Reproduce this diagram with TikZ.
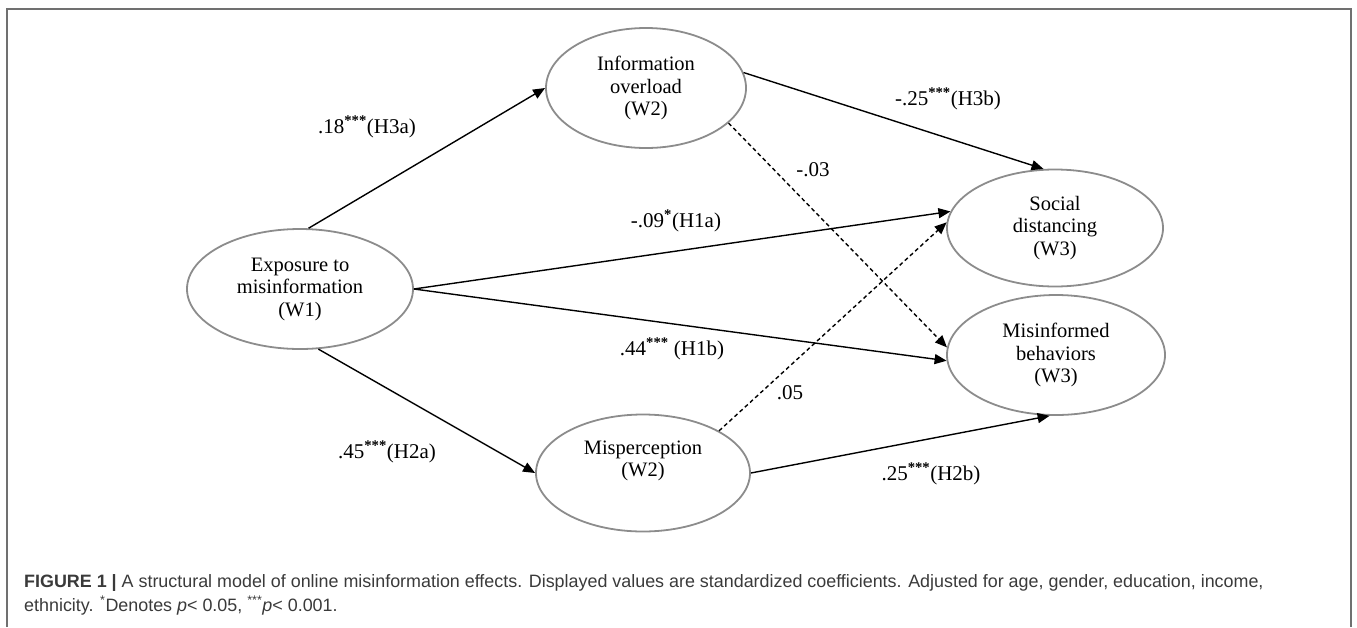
\documentclass[tikz,border=0pt]{standalone}
\usepackage{fontspec}
\setmainfont{Liberation Serif}
\newfontfamily\capfont{Liberation Sans}
\usetikzlibrary{shapes.geometric,arrows.meta}
\definecolor{ellgray}{HTML}{8C8C8C}
\definecolor{framegray}{HTML}{707070}
\definecolor{captext}{HTML}{3A3A3A}
\begin{document}
\begin{tikzpicture}[x=1pt, y=-1pt,
	latent/.style={ellipse, draw=ellgray, line width=1.8pt, inner sep=0pt, align=center, font=\fontsize{20.5}{22.5}\selectfont},
	effect/.style={draw=black, line width=1.4pt, -{Triangle[length=12pt, width=10pt]}},
	nonsig/.style={effect, dash pattern=on 4pt off 3pt},
	coef/.style={inner sep=0pt, font=\fontsize{21}{23}\selectfont},
	capt/.style={inner sep=0pt, text=captext, font=\capfont\fontsize{17.9}{21}\selectfont}]
	\useasboundingbox (0,0) rectangle (1357,627);
	\draw[framegray, line width=1.5pt] (7,627) |- (1351,9) -- (1351,627);
	\node[latent, minimum width=226, minimum height=120] (expo) at (300,289) {Exposure to\\misinformation\\(W1)};
	\node[latent, minimum width=200, minimum height=120] (over) at (646,88) {Information\\overload\\(W2)};
	\node[latent, minimum width=214, minimum height=117] (misp) at (643,473) {Misperception\\(W2)\\[6pt]};
	\node[latent, minimum width=216, minimum height=117] (soc) at (1055,228) {Social\\distancing\\(W3)};
	\node[latent, minimum width=218, minimum height=120] (misb) at (1056,355) {Misinformed\\behaviors\\(W3)};
	\draw[effect] (expo.82) -- (over.west);
	\draw[effect] (expo.east) -- (soc.171);
	\draw[effect] (expo.east) -- (misb.183);
	\draw[effect] (expo.287) -- (misp.west);
	\draw[effect] (over.9) -- (soc.101);
	\draw[nonsig] (over.337) -- (misb.176);
	\draw[nonsig] (misp.29) -- (soc.177);
	\draw[effect] (misp.east) -- (misb.264);
	\node[coef] (h3a) at (367,127) {.18\textsuperscript{\textbf{***}}(H3a)};
	\node[coef] (h1a) at (676,221) {-.09\textsuperscript{\textbf{*}}(H1a)};
	\node[coef] (h3b) at (948,99) {-.25\textsuperscript{\textbf{***}}(H3b)};
	\node[coef] (n1) at (813,170) {-.03};
	\node[coef] (h1b) at (672,349) {.44\textsuperscript{\textbf{***}} (H1b)};
	\node[coef] (n2) at (790,393) {.05};
	\node[coef] (h2a) at (387,452) {.45\textsuperscript{\textbf{***}}(H2a)};
	\node[coef] (h2b) at (931,474) {.25\textsuperscript{\textbf{***}}(H2b)};
	% caption
	\node[capt, anchor=base west] (cap1) at (24,587) {\textbf{FIGURE 1 |} A structural model of online misinformation effects. Displayed values are standardized coefficients. Adjusted for age, gender, education, income,};
	\node[capt, anchor=base west] (cap2) at (24,611) {ethnicity. \textsuperscript{*}Denotes \textit{p}< 0.05, \textsuperscript{***}\textit{p}< 0.001.};
\end{tikzpicture}
\end{document}
